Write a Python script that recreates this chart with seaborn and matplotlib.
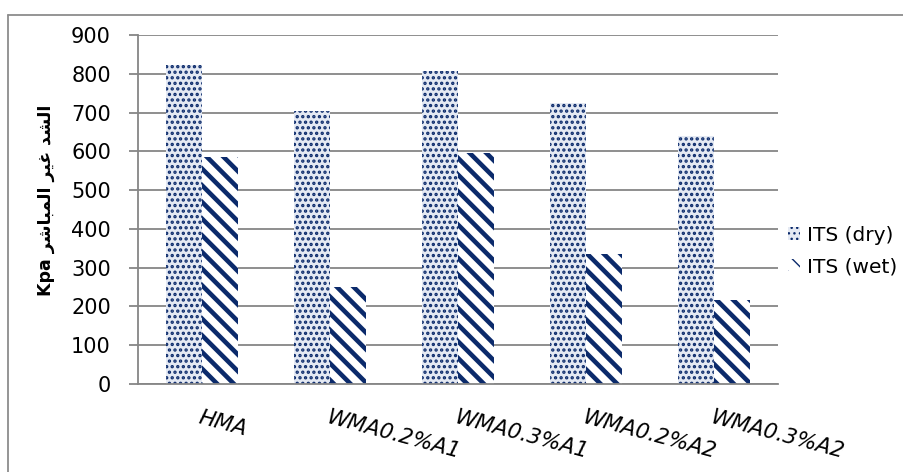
import matplotlib
matplotlib.use("Agg")
import matplotlib.pyplot as plt
from matplotlib.lines import Line2D
from matplotlib.patches import Patch
import numpy as np
import pandas as pd
import seaborn as sns

# ---- data -------------------------------------------------------------
mixes = ["HMA", "WMA0.2%A1", "WMA0.3%A1", "WMA0.2%A2", "WMA0.3%A2"]
its_dry = [822, 704, 806, 724, 639]
its_wet = [586, 251, 596, 334, 217]
series_names = ["ITS (dry)", "ITS (wet)"]
y_ticks = [0, 100, 200, 300, 400, 500, 600, 700, 800, 900]
y_label_ar = "الشد غير المباشر"
y_label_unit = "Kpa"

# ---- minimal Arabic shaping (presentation forms, visual order) ---------
# isolated, final, initial, medial ; None = letter does not join forward
FORMS = {
    "ا": ("\uFE8D", "\uFE8E", None, None),
    "د": ("\uFEA9", "\uFEAA", None, None),
    "ر": ("\uFEAD", "\uFEAE", None, None),
    "ل": ("\uFEDD", "\uFEDE", "\uFEDF", "\uFEE0"),
    "ش": ("\uFEB5", "\uFEB6", "\uFEB7", "\uFEB8"),
    "غ": ("\uFECD", "\uFECE", "\uFECF", "\uFED0"),
    "ي": ("\uFEF1", "\uFEF2", "\uFEF3", "\uFEF4"),
    "م": ("\uFEE1", "\uFEE2", "\uFEE3", "\uFEE4"),
    "ب": ("\uFE8F", "\uFE90", "\uFE91", "\uFE92"),
}


def shape_word(word):
    out = []
    for i, ch in enumerate(word):
        prev = word[i - 1] if i > 0 else None
        nxt = word[i + 1] if i + 1 < len(word) else None
        iso, fin, ini, med = FORMS[ch]
        joins_prev = prev is not None and FORMS[prev][2] is not None
        joins_next = nxt is not None and ini is not None
        if joins_prev and joins_next:
            out.append(med)
        elif joins_prev:
            out.append(fin)
        elif joins_next:
            out.append(ini)
        else:
            out.append(iso)
    return "".join(reversed(out))


def visual_rtl(text):
    return " ".join(shape_word(w) for w in reversed(text.split()))


# ---- figure -----------------------------------------------------------
sns.set_theme(style="white")
plt.rcParams["font.family"] = ["DejaVu Sans"]
plt.rcParams["text.color"] = "black"

W, H = 904, 472
fig = plt.figure(figsize=(W / 100, H / 100), dpi=100)
ax = fig.add_axes([138 / W, 1 - 384 / H, (778 - 138) / W, (384 - 35) / H])

navy = "#0B2A6B"
grid_gray = "#868686"
dry_face = "#E4E9F3"

df = pd.DataFrame({
    "mix": mixes * 2,
    "ITS": its_dry + its_wet,
    "series": [series_names[0]] * len(mixes) + [series_names[1]] * len(mixes),
})

sns.barplot(data=df, x="mix", y="ITS", hue="series", order=mixes,
            hue_order=series_names, palette=[dry_face, "#FFFFFF"],
            saturation=1, width=0.5625, gap=0, legend=False, ax=ax,
            errorbar=None)

hatch_specs = [("...", 1.6), ("\\\\", 3.3)]
for cont, (hatch, hlw) in zip(ax.containers, hatch_specs):
    for bar in cont:
        bar.set_edgecolor(navy)
        bar.set_linewidth(0)
        bar.set_hatch(hatch)
        if hasattr(bar, "set_hatch_linewidth"):
            bar.set_hatch_linewidth(hlw)

ax.set_ylim(0, 900)
ax.set_xlim(-0.5, len(mixes) - 0.5)
ax.set_yticks(y_ticks)
ax.set_yticklabels([str(v) for v in y_ticks], fontsize=15)
ax.set_xticks(range(len(mixes)))
ax.set_xticklabels(mixes, fontsize=15.5, style="italic", rotation=-15,
                   ha="left", va="top", rotation_mode="anchor")
ax.set_xticks(np.arange(-0.5, len(mixes)), minor=True)
ax.tick_params(axis="x", which="major", length=0, pad=17,
               labelcolor="black")
ax.tick_params(axis="x", which="minor", length=6, width=1.3,
               color=grid_gray, direction="out")
ax.tick_params(axis="y", length=6.5, width=1.3, color=grid_gray,
               direction="out", pad=13, left=True, labelcolor="black")
ax.set_xlabel("")
ax.set_ylabel("")

ax.yaxis.grid(True, color=grid_gray, linewidth=1.3)
ax.xaxis.grid(False)
ax.set_axisbelow(True)
for side in ("top", "right"):
    ax.spines[side].set_visible(False)
for side in ("left", "bottom"):
    ax.spines[side].set_color(grid_gray)
    ax.spines[side].set_linewidth(1.3)

# rotated value-axis title
fig.text(46 / W, 1 - 200 / H, y_label_unit + " " + visual_rtl(y_label_ar),
         rotation=90, ha="center", va="center", fontsize=12.5,
         fontweight="bold", color="black")

# legend
handles = [
    Patch(facecolor=dry_face, edgecolor=navy, linewidth=0, hatch="..."),
    Patch(facecolor="white", edgecolor=navy, linewidth=0, hatch="\\\\"),
]
for h, (_, hlw) in zip(handles, hatch_specs):
    if hasattr(h, "set_hatch_linewidth"):
        h.set_hatch_linewidth(hlw)
fig.legend(handles, series_names, loc="center left",
           bbox_to_anchor=(786 / W, 1 - 251 / H), frameon=False,
           fontsize=14.5, handlelength=0.6, handleheight=0.6,
           handletextpad=0.35, labelspacing=0.6, borderpad=0.1,
           borderaxespad=0.0, labelcolor="black")

# chart-area frame (top and left edges)
fig.add_artist(Line2D([8 / W, 1.0], [1 - 15 / H, 1 - 15 / H],
                      transform=fig.transFigure, color="#8C8C8C", lw=1.3))
fig.add_artist(Line2D([8 / W, 8 / W], [0.0, 1 - 15 / H],
                      transform=fig.transFigure, color="#8C8C8C", lw=1.3))

fig.savefig("out.png", dpi=100, facecolor="white")
